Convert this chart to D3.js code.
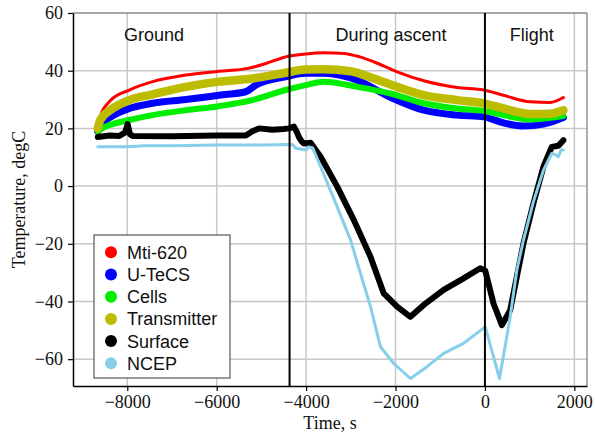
<!DOCTYPE html>
<html><head><meta charset="utf-8">
<script src="https://cdn.jsdelivr.net/npm/d3@7"></script>
<style>
body{margin:0;background:#fff;}
svg{display:block;}
</style></head>
<body><svg id="c" width="595" height="434"></svg>
<script>
// ---- data ----
const seriesNames = ["Mti-620","U-TeCS","Cells","Transmitter","Surface","NCEP"];
const seriesColors = ["#ff0000","#0000ff","#00ee00","#bcbc00","#000000","#87ceeb"];
const xTicks = [-8000,-6000,-4000,-2000,0,2000];
const yTicks = [-60,-40,-20,0,20,40,60];
const phaseLabels = ["Ground","During ascent","Flight"];
const phaseCenters = [-7400,-2100,1050];
const phaseBounds = [-4370,0];

const mti = [[-8660,20],[-8600,24.5],[-8364,29.8],[-7969,33.2],[-7433,36.2],[-6690,38.5],[-5946,39.8],[-5300,40.8],[-4900,42.5],[-4400,45.0],[-4011,45.8],[-3602,46.2],[-3156,46.0],[-2800,44.8],[-2487,43.1],[-1964,39.6],[-1369,36.5],[-625,34.2],[-30,33.3],[415,31.5],[1011,29.2],[1458,29.0],[1755,30.7]];
const utecs = [[-8660,19],[-8600,21],[-8364,24],[-7955,26.9],[-7433,28.7],[-6690,30.0],[-5946,31.5],[-5350,32.7],[-5127,35.0],[-4458,37.9],[-4011,39.1],[-3602,39.1],[-2858,36.7],[-2115,30.8],[-1369,26.3],[-625,24.6],[-30,24.0],[415,21.9],[862,20.8],[1309,21.5],[1755,23.8]];
const cells = [[-8660,19],[-8500,20.5],[-7955,22.9],[-7433,24.6],[-6690,26.3],[-5946,27.7],[-5201,29.8],[-4458,33.3],[-4011,35.0],[-3602,36.2],[-2858,34.4],[-2115,32.1],[-1369,28.7],[-625,26.9],[-30,26.1],[415,24.6],[1011,23.1],[1755,24.3]];
const transmitter = [[-8660,20],[-8600,23],[-8364,26.5],[-7955,29.8],[-7433,31.8],[-6690,34.4],[-5946,36.2],[-5201,37.3],[-4458,39.3],[-4011,40.4],[-3602,40.5],[-3007,39.8],[-2487,37.3],[-1964,34.4],[-1369,31.5],[-625,29.8],[-30,28.7],[415,26.9],[1011,25.0],[1458,25.1],[1755,26.3]];
const surface = [[-8660,17],[-8400,17.5],[-8178,17.4],[-8050,18.5],[-7992,21.5],[-7940,18],[-7880,17.4],[-7000,17.3],[-6000,17.5],[-5350,17.5],[-5200,19],[-5052,20.0],[-4755,19.5],[-4500,19.8],[-4384,20.0],[-4272,20.6],[-4200,18.5],[-4160,17],[-4100,15.5],[-4048,14.8],[-3900,15.0],[-3676,10.2],[-3304,-0.2],[-2932,-11.8],[-2560,-24.5],[-2263,-37.2],[-1964,-41.8],[-1667,-45.3],[-1369,-41.2],[-924,-36.0],[-478,-32.0],[-105,-28.5],[7,-29.3],[192,-40.7],[379,-48.2],[565,-43.0],[714,-31.4],[862,-19.9],[1085,-6.0],[1308,6.7],[1495,13.6],[1644,14.0],[1755,15.9]];
const ncep = [[-8660,13.6],[-8000,13.6],[-7600,14.0],[-7000,14.0],[-6000,14.2],[-5000,14.2],[-4400,14.4],[-4300,14.3],[-4234,13.1],[-4100,12.8],[-4000,12.5],[-3937,13.6],[-3850,13.2],[-3676,6.7],[-3304,-7.2],[-3007,-18.7],[-2783,-30.3],[-2560,-41.8],[-2337,-55.7],[-2040,-61.5],[-1667,-66.7],[-1295,-62.6],[-924,-58.0],[-478,-54.5],[7,-48.8],[327,-66.7],[565,-45.3],[714,-29.1],[862,-18.7],[1085,-5.4],[1308,5.5],[1495,11.3],[1560,11.0],[1644,10.2],[1700,12.5],[1755,12.5]];
const seriesData = [mti, utecs, cells, transmitter, surface, ncep];
const seriesWidths = [3, 7, 6, 8.5, 6, 3];

// ---- layout ----
const L = 73, R = 587, T = 13, B = 386;
const svg = d3.select("#c");
const x = d3.scaleLinear().domain([-9214, 2283]).range([L, R]);
const y = d3.scaleLinear().domain([-69.3, 60]).range([B, T]);

// grid
const g = svg.append("g");
g.selectAll("line.gx").data(xTicks).enter().append("line")
  .attr("x1", d => x(d)).attr("x2", d => x(d)).attr("y1", T).attr("y2", B)
  .attr("stroke", "#c8c8c8").attr("stroke-width", 1.5);
g.selectAll("line.gy").data(yTicks).enter().append("line")
  .attr("x1", L).attr("x2", R).attr("y1", d => y(d)).attr("y2", d => y(d))
  .attr("stroke", "#c8c8c8").attr("stroke-width", 1.5);

// frame top/right
svg.append("line").attr("x1", L).attr("x2", R).attr("y1", T).attr("y2", T).attr("stroke", "#777").attr("stroke-width", 1.2);
svg.append("line").attr("x1", R).attr("x2", R).attr("y1", T).attr("y2", B).attr("stroke", "#777").attr("stroke-width", 1.2);

// series
const line = d3.line().x(d => x(d[0])).y(d => y(d[1]));
const smooth = d3.line().x(d => x(d[0])).y(d => y(d[1])).curve(d3.curveMonotoneX);
svg.append("clipPath").attr("id", "pc").append("rect").attr("x", L).attr("y", T).attr("width", R - L).attr("height", B - T);
const sg = svg.append("g").attr("clip-path", "url(#pc)");
seriesData.forEach((d, i) => {
  sg.append("path").attr("d", (i < 4 ? smooth : line)(d))
    .attr("fill", "none").attr("stroke", seriesColors[i])
    .attr("stroke-width", seriesWidths[i]).attr("stroke-linejoin", "round").attr("stroke-linecap", "round");
});

// phase boundaries
svg.selectAll("line.pb").data(phaseBounds).enter().append("line")
  .attr("x1", d => x(d)).attr("x2", d => x(d)).attr("y1", T).attr("y2", B)
  .attr("stroke", "#000").attr("stroke-width", 2);

// phase labels
svg.selectAll("text.ph").data(phaseLabels).enter().append("text")
  .attr("x", (d, i) => x(phaseCenters[i])).attr("y", 41)
  .attr("text-anchor", "middle").attr("font-family", "Liberation Sans, Arial, sans-serif")
  .attr("font-size", 18).attr("fill", "#111").text(d => d);

// axes
const fmt = d3.format("");
const xa = svg.append("g").attr("transform", `translate(0,${B})`)
  .call(d3.axisBottom(x).tickValues(xTicks).tickSize(5).tickSizeOuter(0).tickPadding(4).tickFormat(fmt));
const ya = svg.append("g").attr("transform", `translate(${L},0)`)
  .call(d3.axisLeft(y).tickValues(yTicks).tickSize(5).tickSizeOuter(0).tickPadding(5).tickFormat(fmt));
[xa, ya].forEach(a => {
  a.select(".domain").attr("stroke", "#000").attr("stroke-width", 1.5);
  a.selectAll(".tick line").attr("stroke", "#000").attr("stroke-width", 1.2);
  a.selectAll(".tick text").attr("font-family", "Liberation Serif, Times New Roman, serif")
    .attr("font-size", 18).attr("fill", "#111");
});

// axis titles
svg.append("text").attr("x", (L + R) / 2).attr("y", 429).attr("text-anchor", "middle")
  .attr("font-family", "Liberation Serif, Times New Roman, serif").attr("font-size", 18).attr("fill", "#111")
  .text("Time, s");
svg.append("text").attr("transform", `translate(25,${(T + B) / 2}) rotate(-90)`).attr("text-anchor", "middle")
  .attr("font-family", "Liberation Serif, Times New Roman, serif").attr("font-size", 18).attr("fill", "#111")
  .text("Temperature, degC");

// legend
const lg = svg.append("g").attr("transform", "translate(94,235)");
lg.append("rect").attr("width", 136).attr("height", 143).attr("fill", "#fff").attr("stroke", "#555").attr("stroke-width", 1.2);
const items = lg.selectAll("g.it").data(seriesNames).enter().append("g")
  .attr("transform", (d, i) => `translate(0,${17.3 + i * 22.2})`);
items.append("circle").attr("cx", 17).attr("cy", 0).attr("r", 6).attr("fill", (d, i) => seriesColors[i]);
items.append("text").attr("x", 33).attr("y", 6.5).attr("font-family", "Liberation Sans, Arial, sans-serif")
  .attr("font-size", 18).attr("fill", "#111").text(d => d);
</script></body></html>
